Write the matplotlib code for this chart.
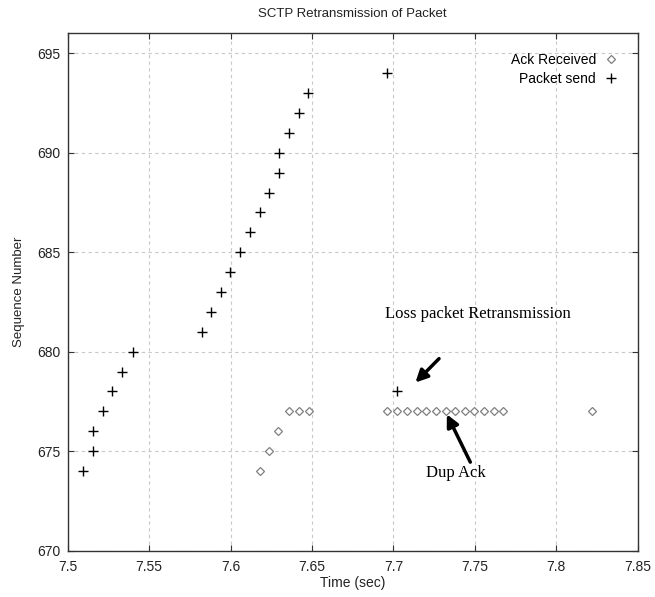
import matplotlib
matplotlib.use("Agg")
import matplotlib.pyplot as plt

# Packet send (+)
send_x = [7.5096, 7.5153, 7.5153, 7.5215, 7.5274, 7.5335, 7.5399,
          7.5823, 7.5880, 7.5941, 7.5999, 7.6060, 7.6119, 7.6181,
          7.6238, 7.6299, 7.6299, 7.6359, 7.6420, 7.6478, 7.6960, 7.7024]
send_y = [674, 675, 676, 677, 678, 679, 680,
          681, 682, 683, 684, 685, 686, 687,
          688, 689, 690, 691, 692, 693, 694, 678]

# Ack received (diamond)
ack_x = [7.6180, 7.6238, 7.6293, 7.6360, 7.6420, 7.6480,
         7.6959, 7.7020, 7.7082, 7.7143, 7.7200, 7.7262, 7.7321,
         7.7380, 7.7440, 7.7497, 7.7556, 7.7616, 7.7675, 7.8221]
ack_y = [674, 675, 676, 677, 677, 677,
         677, 677, 677, 677, 677, 677, 677,
         677, 677, 677, 677, 677, 677, 677]

xticks = [7.5, 7.55, 7.6, 7.65, 7.7, 7.75, 7.8, 7.85]
xtick_labels = ["7.5", "7.55", "7.6", "7.65", "7.7", "7.75", "7.8", "7.85"]
yticks = [670, 675, 680, 685, 690, 695]
ytick_labels = ["670", "675", "680", "685", "690", "695"]

plt.rcParams['font.family'] = ['Liberation Sans', 'DejaVu Sans']

fig = plt.figure(figsize=(6.55, 5.97), dpi=100)
ax = fig.add_axes([0.1034, 0.0776, 0.8702, 0.8666])

ax.plot(ack_x, ack_y, linestyle='none', marker='D', markersize=4.0,
        markerfacecolor='white', markeredgecolor='#808080', markeredgewidth=0.9,
        label='Ack Received')
ax.plot(send_x, send_y, linestyle='none', marker='+', markersize=6.5,
        color='black', markeredgewidth=1.0, label='Packet send')

ax.set_xlim(7.5, 7.85)
ax.set_ylim(670, 696)
ax.set_xticks(xticks)
ax.set_xticklabels(xtick_labels)
ax.set_yticks(yticks)
ax.set_yticklabels(ytick_labels)
ax.tick_params(direction='in', top=True, right=True, labelsize=10, length=4,
               color='#333333', labelcolor='#222222')
ax.tick_params(axis='x', pad=7)
ax.tick_params(axis='y', pad=5)
ax.grid(True, linestyle=(0, (3, 3)), color='#c8c8c8', linewidth=0.8)
for s in ax.spines.values():
    s.set_color('#333333')
    s.set_linewidth(1.0)

ax.set_title('SCTP Retransmission of Packet', fontsize=9.5, color='#222222', pad=12)
ax.set_xlabel('Time (sec)', fontsize=10, color='#222222', labelpad=1)
ax.set_ylabel('Sequence Number', fontsize=9.5, color='#222222', labelpad=9)

leg = ax.legend(loc='upper right', frameon=False, markerfirst=False,
                fontsize=10, handlelength=1.0, handletextpad=0.6,
                borderaxespad=1.0, labelspacing=0.4)

ax.text(7.7521, 681.88, 'Loss packet Retransmission', fontsize=12,
        family='Liberation Serif', ha='center', va='center')
ax.text(7.7386, 673.92, 'Dup Ack', fontsize=12,
        family='Liberation Serif', ha='center', va='center')

ax.annotate('', xy=(7.7135, 678.45), xytext=(7.7280, 679.65),
            arrowprops=dict(arrowstyle='-|>', lw=2.5, color='black',
                            mutation_scale=18, shrinkA=0, shrinkB=0))
ax.annotate('', xy=(7.7328, 676.85), xytext=(7.7472, 674.45),
            arrowprops=dict(arrowstyle='-|>', lw=2.5, color='black',
                            mutation_scale=18, shrinkA=0, shrinkB=0))

fig.savefig('out.png', dpi=100)
